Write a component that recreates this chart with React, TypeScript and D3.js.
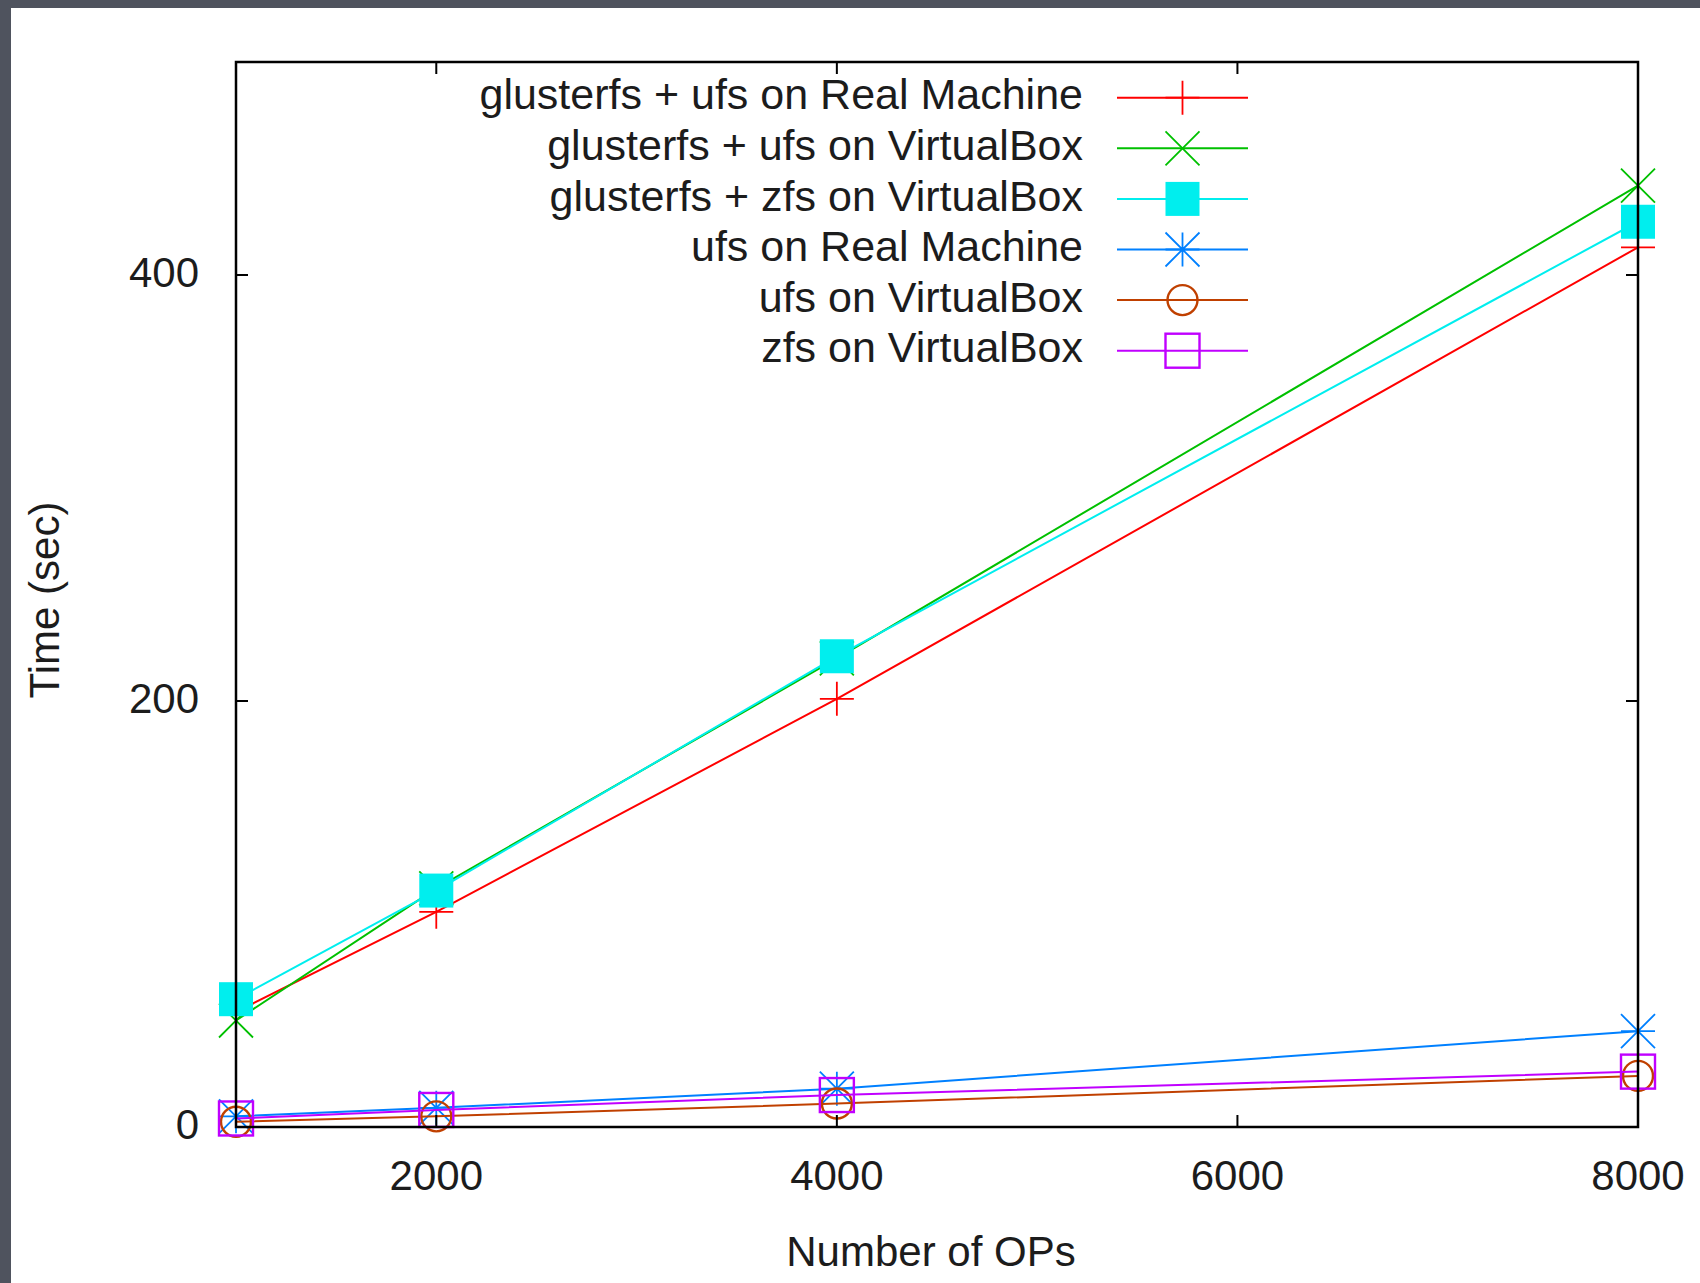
import React from 'react';
import * as d3 from 'd3';

// Number of operations (x axis)
const OPS = [1000, 2000, 4000, 8000];

// Time in seconds for every configuration
const GLUSTER_UFS_REAL = [54, 101, 201, 413];
const GLUSTER_UFS_VBOX = [50, 112, 220, 442];
const GLUSTER_ZFS_VBOX = [60, 111, 221, 425];
const UFS_REAL = [5, 9, 18, 45];
const UFS_VBOX = [2.5, 5, 11, 24];
const ZFS_VBOX = [4, 8, 15, 26];

const X_TICKS = [2000, 4000, 6000, 8000];
const Y_TICKS = [0, 200, 400];

type Marker = 'plus' | 'cross' | 'star' | 'box' | 'filledBox' | 'circle';

interface Series {
  name: string;
  values: number[];
  color: string;
  marker: Marker;
}

const SERIES: Series[] = [
  { name: 'glusterfs + ufs on Real Machine', values: GLUSTER_UFS_REAL, color: '#ff0000', marker: 'plus' },
  { name: 'glusterfs + ufs on VirtualBox', values: GLUSTER_UFS_VBOX, color: '#00c000', marker: 'cross' },
  { name: 'glusterfs + zfs on VirtualBox', values: GLUSTER_ZFS_VBOX, color: '#00eeee', marker: 'filledBox' },
  { name: 'ufs on Real Machine', values: UFS_REAL, color: '#0080ff', marker: 'star' },
  { name: 'ufs on VirtualBox', values: UFS_VBOX, color: '#c04000', marker: 'circle' },
  { name: 'zfs on VirtualBox', values: ZFS_VBOX, color: '#c000ff', marker: 'box' },
];

const WIDTH = 1700;
const HEIGHT = 1283;
const FONT = '"Liberation Sans", Arial, sans-serif';
const TEXT = '#1c1c1c';

const frame = { left: 236, right: 1638, top: 62, bottom: 1127 };
const TICK = 12;
const S = 17; // half marker size

const PointMarker: React.FC<{ type: Marker; x: number; y: number; color: string }> = ({ type, x, y, color }) => {
  const sw = 1.8;
  switch (type) {
    case 'plus':
      return <path d={`M${x - S},${y}H${x + S}M${x},${y - S}V${y + S}`} stroke={color} strokeWidth={sw} fill="none" />;
    case 'cross':
      return <path d={`M${x - S},${y - S}L${x + S},${y + S}M${x - S},${y + S}L${x + S},${y - S}`} stroke={color} strokeWidth={sw} fill="none" />;
    case 'star':
      return (
        <path
          d={`M${x - S},${y}H${x + S}M${x},${y - S}V${y + S}M${x - S},${y - S}L${x + S},${y + S}M${x - S},${y + S}L${x + S},${y - S}`}
          stroke={color}
          strokeWidth={sw}
          fill="none"
        />
      );
    case 'box':
      return <rect x={x - S} y={y - S} width={S * 2} height={S * 2} stroke={color} strokeWidth={sw + 0.6} fill="none" />;
    case 'filledBox':
      return <rect x={x - S} y={y - S} width={S * 2} height={S * 2} fill={color} />;
    case 'circle':
      return <circle cx={x} cy={y} r={15} stroke={color} strokeWidth={sw + 0.6} fill="none" />;
  }
};

export default function App() {
  const x = d3.scaleLinear().domain([1000, 8000]).range([frame.left, frame.right]);
  const y = d3.scaleLinear().domain([0, 500]).range([frame.bottom, frame.top]);

  const line = d3
    .line<number>()
    .x((_, i) => x(OPS[i]))
    .y(d => y(d));

  // legend geometry
  const legendTextRight = 1083;
  const legendLineX0 = 1117;
  const legendLineX1 = 1248;
  const legendMarkX = 1182.5;
  const legendTop = 97.7;
  const legendStep = 50.6;

  return (
    <svg
      width={WIDTH}
      height={HEIGHT}
      style={{ position: 'absolute', left: 0, top: 0, display: 'block' }}
      fontFamily={FONT}
    >
      {/* dark screen border */}
      <rect x={0} y={0} width={WIDTH} height={HEIGHT} fill="#4f535e" />
      <rect x={11} y={8} width={WIDTH - 11} height={HEIGHT - 8} fill="#ffffff" />

      {/* series: line then points, one plot after the other */}
      {SERIES.map(s => (
        <g key={s.name}>
          <path d={line(s.values) || ''} fill="none" stroke={s.color} strokeWidth={2} />
          {s.values.map((v, i) => (
            <PointMarker key={i} type={s.marker} x={x(OPS[i])} y={y(v)} color={s.color} />
          ))}
        </g>
      ))}

      {/* frame */}
      <rect
        x={frame.left}
        y={frame.top}
        width={frame.right - frame.left}
        height={frame.bottom - frame.top}
        fill="none"
        stroke="#000"
        strokeWidth={2.5}
      />

      {/* x ticks (bottom & top) */}
      {X_TICKS.map(t => (
        <g key={`x${t}`}>
          <line x1={x(t)} x2={x(t)} y1={frame.bottom} y2={frame.bottom - TICK} stroke="#000" strokeWidth={2} />
          <line x1={x(t)} x2={x(t)} y1={frame.top} y2={frame.top + TICK} stroke="#000" strokeWidth={2} />
          <text x={x(t)} y={frame.bottom + 63} textAnchor="middle" fontSize={42} fill={TEXT}>
            {t}
          </text>
        </g>
      ))}

      {/* y ticks (left & right) */}
      {Y_TICKS.map(t => (
        <g key={`y${t}`}>
          <line x1={frame.left} x2={frame.left + TICK} y1={y(t)} y2={y(t)} stroke="#000" strokeWidth={2} />
          <line x1={frame.right} x2={frame.right - TICK} y1={y(t)} y2={y(t)} stroke="#000" strokeWidth={2} />
          <text x={199} y={y(t) + 12} textAnchor="end" fontSize={42} fill={TEXT}>
            {t}
          </text>
        </g>
      ))}

      {/* axis titles */}
      <text x={931} y={1266} textAnchor="middle" fontSize={42} fill={TEXT}>
        Number of OPs
      </text>
      <text transform="translate(59,600) rotate(-90)" textAnchor="middle" fontSize={42} fill={TEXT}>
        Time (sec)
      </text>

      {/* legend */}
      {SERIES.map((s, i) => {
        const ly = legendTop + i * legendStep;
        return (
          <g key={`lg${s.name}`}>
            <text x={legendTextRight} y={ly + 11.6} textAnchor="end" fontSize={43} fill={TEXT}>
              {s.name}
            </text>
            <line x1={legendLineX0} x2={legendLineX1} y1={ly} y2={ly} stroke={s.color} strokeWidth={2} />
            <PointMarker type={s.marker} x={legendMarkX} y={ly} color={s.color} />
          </g>
        );
      })}
    </svg>
  );
}
